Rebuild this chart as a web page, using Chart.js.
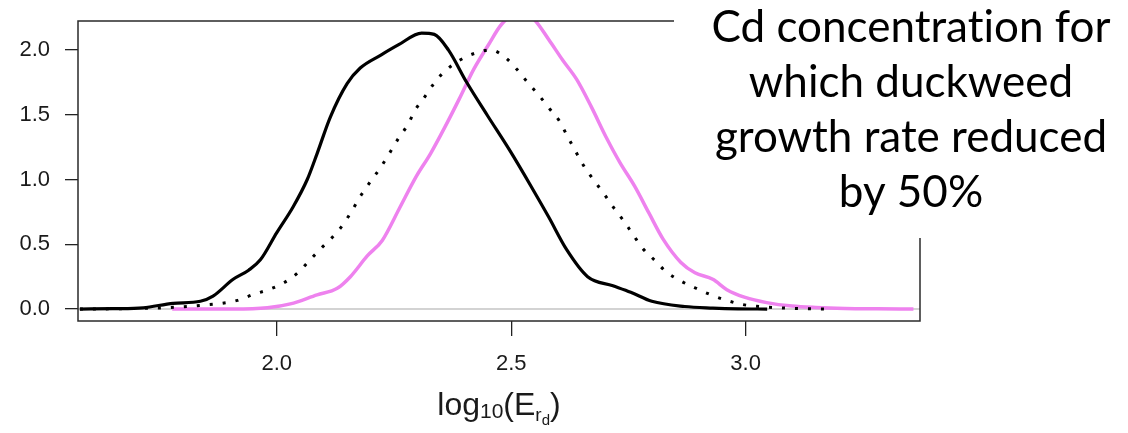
<!DOCTYPE html>
<html>
<head>
<meta charset="utf-8">
<script src="https://cdn.jsdelivr.net/npm/chart.js@4.4.1/dist/chart.umd.min.js"></script>
<style>
  html, body { margin: 0; padding: 0; background: #fff; }
  #wrap { width: 1128px; height: 433px; }
</style>
</head>
<body>
<div id="wrap"><canvas id="densityChart" width="1128" height="433"></canvas></div>
<script>
// values
const xTicks = [2.0, 2.5, 3.0];
const xTickLabels = ['2.0', '2.5', '3.0'];
const yTicks = [0.0, 0.5, 1.0, 1.5, 2.0];
const yTickLabels = ['0.0', '0.5', '1.0', '1.5', '2.0'];

const blackX = [1.58, 1.65, 1.715, 1.779, 1.837, 1.864, 1.907, 1.94, 1.965, 2.0, 2.035, 2.065, 2.086, 2.114, 2.15, 2.178, 2.222, 2.26, 2.309, 2.336, 2.366, 2.405, 2.45, 2.496, 2.542, 2.58, 2.618, 2.663, 2.717, 2.755, 2.80, 2.87, 2.93, 2.984, 3.046];
const blackY = [0.0, 0.003, 0.01, 0.044, 0.06, 0.1, 0.23, 0.3, 0.38, 0.59, 0.79, 1.0, 1.2, 1.48, 1.74, 1.86, 1.96, 2.04, 2.13, 2.12, 2.0, 1.75, 1.49, 1.23, 0.95, 0.71, 0.46, 0.25, 0.18, 0.13, 0.06, 0.02, 0.008, 0.002, 0.0];

const dottedX = [1.58, 1.65, 1.72, 1.79, 1.843, 1.881, 1.916, 1.95, 1.984, 2.016, 2.045, 2.07, 2.095, 2.12, 2.143, 2.162, 2.18, 2.199, 2.221, 2.24, 2.26, 2.279, 2.296, 2.316, 2.337, 2.36, 2.39, 2.423, 2.456, 2.488, 2.512, 2.535, 2.559, 2.581, 2.603, 2.619, 2.637, 2.654, 2.675, 2.696, 2.717, 2.738, 2.759, 2.779, 2.805, 2.83, 2.86, 2.891, 2.924, 2.957, 2.992, 3.03, 3.08, 3.17];
const dottedY = [0, 0.002, 0.006, 0.015, 0.03, 0.044, 0.067, 0.113, 0.152, 0.205, 0.28, 0.376, 0.47, 0.56, 0.66, 0.77, 0.88, 0.98, 1.09, 1.2, 1.32, 1.42, 1.54, 1.64, 1.75, 1.84, 1.92, 1.975, 2.0, 1.94, 1.85, 1.75, 1.65, 1.55, 1.45, 1.34, 1.22, 1.11, 1.0, 0.9, 0.79, 0.69, 0.58, 0.475, 0.38, 0.29, 0.22, 0.166, 0.113, 0.07, 0.036, 0.02, 0.008, 0];

const pinkX = [1.777, 1.85, 1.907, 1.98, 2.029, 2.086, 2.129, 2.157, 2.193, 2.225, 2.262, 2.297, 2.328, 2.358, 2.389, 2.42, 2.45, 2.48, 2.52, 2.55, 2.58, 2.61, 2.64, 2.671, 2.702, 2.732, 2.763, 2.794, 2.824, 2.862, 2.892, 2.93, 2.96, 2.999, 3.045, 3.099, 3.15, 3.212, 3.28, 3.358];
const pinkY = [0, 0.0, 0.0, 0.01, 0.04, 0.11, 0.16, 0.25, 0.41, 0.53, 0.78, 1.02, 1.2, 1.40, 1.62, 1.85, 2.03, 2.2, 2.3, 2.23, 2.08, 1.92, 1.77, 1.56, 1.33, 1.13, 0.95, 0.74, 0.54, 0.36, 0.28, 0.23, 0.15, 0.09, 0.05, 0.023, 0.012, 0.005, 0.002, 0.0];

// \u200C keeps Lato from joining "ti" into a ligature
const noteLines = ['Cd concentrat\u200Cion for', 'which duckweed', 'growth rate reduced', 'by 50%'];

function toPoints(xs, ys) {
    return xs.map((x, i) => ({ x: x, y: ys[i] }));
}

function noPadding(s) {
    s.paddingTop = 0;
    s.paddingBottom = 0;
    s.paddingLeft = 0;
    s.paddingRight = 0;
}

// box, zero line, axis title and the note on its white patch
const extrasPlugin = {
    id: 'extras',
    beforeDatasetsDraw(chart) {
        const ctx = chart.ctx;
        const a = chart.chartArea;
        const y0 = chart.scales.y.getPixelForValue(0);
        ctx.save();
        ctx.strokeStyle = '#c4c4c4';
        ctx.lineWidth = 1.5;
        ctx.beginPath();
        ctx.moveTo(a.left, y0);
        ctx.lineTo(a.right, y0);
        ctx.stroke();
        ctx.restore();
    },
    afterDraw(chart) {
        const ctx = chart.ctx;
        const a = chart.chartArea;
        ctx.save();
        ctx.strokeStyle = '#2a2a2a';
        ctx.lineWidth = 1.5;
        ctx.strokeRect(a.left, a.top, a.right - a.left, a.bottom - a.top);

        // axis title log10(E_rd)
        const parts = [
            { t: 'log', size: 32, dy: 0 },
            { t: '10', size: 21, dy: 3 },
            { t: '(', size: 32, dy: 0 },
            { t: 'E', size: 32, dy: 0 },
            { t: 'r', size: 19, dy: 6 },
            { t: 'd', size: 15, dy: 10 },
            { t: ')', size: 32, dy: 0 }
        ];
        let total = 0;
        parts.forEach(p => {
            ctx.font = p.size + 'px "Liberation Sans", Arial, sans-serif';
            p.w = ctx.measureText(p.t).width;
            total += p.w;
        });
        let x = (a.left + a.right) / 2 - total / 2;
        const base = 415;
        ctx.fillStyle = '#1a1a1a';
        ctx.textBaseline = 'alphabetic';
        ctx.textAlign = 'left';
        parts.forEach(p => {
            ctx.font = p.size + 'px "Liberation Sans", Arial, sans-serif';
            ctx.fillText(p.t, x, base + p.dy);
            x += p.w;
        });

        // white patch with the note
        ctx.fillStyle = '#ffffff';
        ctx.fillRect(674, 0, 1128 - 674, 238);
        ctx.fillStyle = '#000000';
        ctx.textAlign = 'center';
        ctx.font = '44px Lato, "Open Sans", sans-serif';
        noteLines.forEach((line, i) => {
            ctx.fillText(line, 911, 42 + i * 55);
        });
        ctx.restore();
    }
};

const ctx = document.getElementById('densityChart').getContext('2d');
new Chart(ctx, {
    type: 'scatter',
    data: {
        datasets: [
            {
                label: 'black',
                data: toPoints(blackX, blackY),
                showLine: true,
                borderColor: '#000000',
                borderWidth: 3.2,
                pointRadius: 0,
                cubicInterpolationMode: 'monotone'
            },
            {
                label: 'dotted',
                data: toPoints(dottedX, dottedY),
                showLine: true,
                borderColor: '#000000',
                borderWidth: 3,
                borderDash: [3, 10],
                pointRadius: 0,
                cubicInterpolationMode: 'monotone'
            },
            {
                label: 'violet',
                data: toPoints(pinkX, pinkY),
                showLine: true,
                borderColor: '#EE82EE',
                borderWidth: 3.5,
                pointRadius: 0,
                cubicInterpolationMode: 'monotone'
            }
        ]
    },
    options: {
        responsive: false,
        animation: false,
        devicePixelRatio: 1,
        layout: { padding: { left: 0, right: 208, top: 21, bottom: 0 } },
        plugins: {
            legend: { display: false },
            tooltip: { enabled: false }
        },
        scales: {
            x: {
                type: 'linear',
                min: 1.576,
                max: 3.372,
                afterBuildTicks: s => { s.ticks = xTicks.map(v => ({ value: v })); },
                afterFit: s => { s.height = 112; noPadding(s); },
                border: { display: false },
                grid: { drawOnChartArea: false, drawTicks: true, tickLength: 15, color: '#222', lineWidth: 1.3 },
                ticks: {
                    padding: 15,
                    color: '#1a1a1a',
                    font: { family: '"Liberation Sans", Arial, sans-serif', size: 22 },
                    callback: (v, i) => xTickLabels[i]
                }
            },
            y: {
                type: 'linear',
                min: -0.092,
                max: 2.223,
                afterBuildTicks: s => { s.ticks = yTicks.map(v => ({ value: v })); },
                afterFit: s => { s.width = 78; noPadding(s); },
                border: { display: false },
                grid: { drawOnChartArea: false, drawTicks: true, tickLength: 13, color: '#222', lineWidth: 1.3 },
                ticks: {
                    padding: 15,
                    color: '#1a1a1a',
                    font: { family: '"Liberation Sans", Arial, sans-serif', size: 22 },
                    callback: (v, i) => yTickLabels[i]
                }
            }
        }
    },
    plugins: [extrasPlugin]
});
</script>
</body>
</html>
